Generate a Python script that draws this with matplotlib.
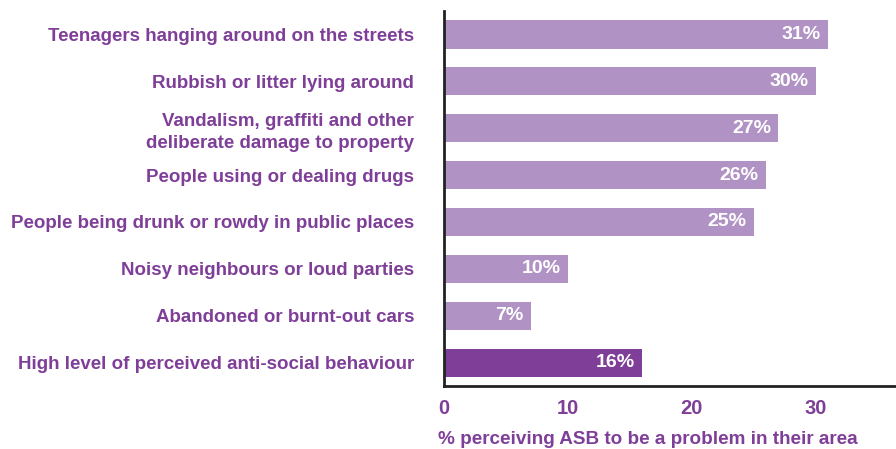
import matplotlib.pyplot as plt

categories = [
    'Teenagers hanging around on the streets',
    'Rubbish or litter lying around',
    'Vandalism, graffiti and other\ndeliberate damage to property',
    'People using or dealing drugs',
    'People being drunk or rowdy in public places',
    'Noisy neighbours or loud parties',
    'Abandoned or burnt-out cars',
    'High level of perceived anti-social behaviour',
]
values = [31, 30, 27, 26, 25, 10, 7, 16]
ticks = [0, 10, 20, 30]

light = '#b093c4'
dark = '#7f3f98'
text_col = '#7f3f98'

plt.rcParams['font.family'] = ['Liberation Sans', 'DejaVu Sans']

fig = plt.figure(figsize=(8.96, 4.49), dpi=100)
ax = fig.add_axes([0.4955, 0.1403, 0.5045, 0.8352])

ypos = list(range(len(values)))
colors = [light] * (len(values) - 1) + [dark]
ax.barh(ypos, values, height=0.6, color=colors)

for y, v in zip(ypos, values):
    ax.text(v - 0.6, y, f'{v}%', ha='right', va='center', color='white',
            fontsize=14, fontweight='bold')

ax.set_ylim(len(values) - 0.5, -0.5)
ax.set_xlim(0, 36.5)
ax.set_yticks(ypos)
ax.set_yticklabels(categories, color=text_col, fontsize=13.5, fontweight='bold',
                   linespacing=1.4)
ax.set_xticks(ticks)
ax.set_xticklabels([str(t) for t in ticks], color=text_col, fontsize=14.5,
                   fontweight='bold')
ax.tick_params(axis='both', length=0)
ax.tick_params(axis='y', pad=21.5)
ax.tick_params(axis='x', pad=9)

for s in ['top', 'right']:
    ax.spines[s].set_visible(False)
for s in ['left', 'bottom']:
    ax.spines[s].set_linewidth(2)
    ax.spines[s].set_color('#222222')

fig.text(438 / 896, 1 - 440 / 449, '% perceiving ASB to be a problem in their area',
         color=text_col, fontsize=13.6, fontweight='bold', ha='left', va='center')

fig.savefig('out.png', dpi=100)
